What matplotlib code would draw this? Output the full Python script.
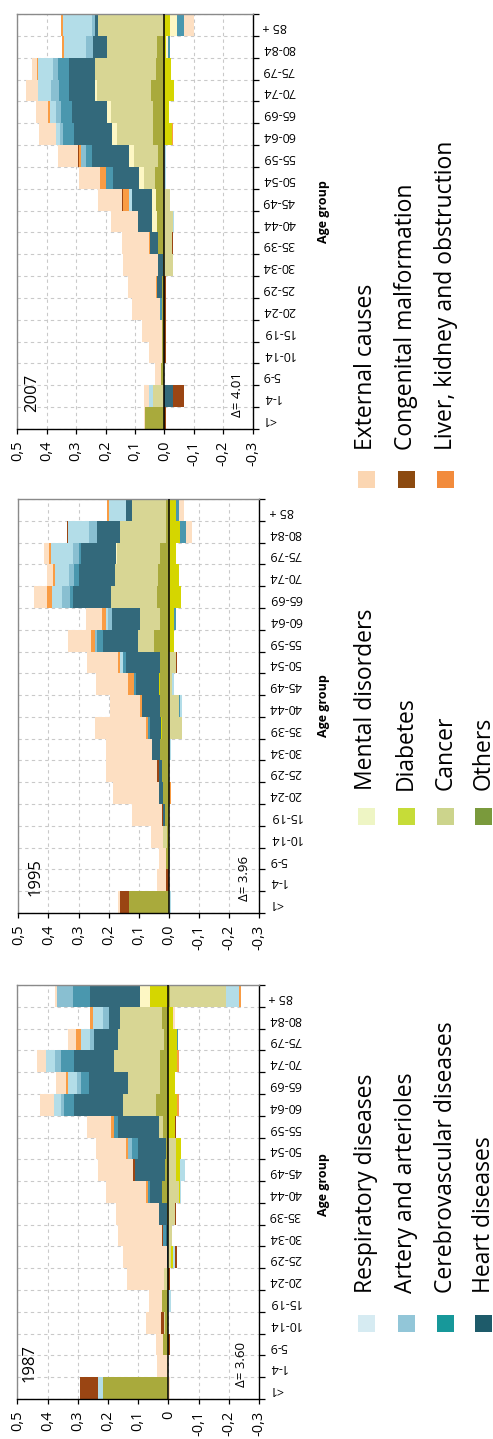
import numpy as np
import matplotlib
matplotlib.use("Agg")
import matplotlib.pyplot as plt
from matplotlib.patches import Rectangle
from matplotlib.ticker import FixedLocator, FuncFormatter

plt.rcParams['font.family'] = ['Open Sans', 'DejaVu Sans']

# age groups, youngest first (drawn bottom to top)
ages = ['<1', '1-4', '5-9', '10-14', '15-19', '20-24', '25-29', '30-34', '35-39',
        '40-44', '45-49', '50-54', '55-59', '60-64', '65-69', '70-74', '75-79',
        '80-84', '85 +']

# stacking order outward from zero
causes = ['Others', 'Cancer', 'Diabetes', 'Mental disorders', 'Heart diseases',
          'Cerebrovascular diseases', 'Artery and arterioles', 'Respiratory diseases',
          'Liver, kidney and obstruction', 'Congenital malformation', 'External causes']
bar_colors = ['#a9aa3c', '#d8d694', '#d5d600', '#fdf7c4', '#33697b', '#4a97ae',
              '#89bfd1', '#b3dde8', '#f99c44', '#9a4513', '#fddfc2']

# ---- 1987 ----
others_1987 = [.216, 0, .017, .010, .020, .005, 0, 0, .005, .021, .012, .007, .018, .042, .029, .029, .013, .022, -.005]
cancer_1987 = [0, .006, 0, .005, 0, .011, -.010, -.012, -.021, -.034, -.026, -.026, .013, .108, .105, .151, .153, .137, -.185]
diabetes_1987 = [0, 0, 0, 0, 0, 0, -.006, 0, 0, -.003, -.011, -.017, -.021, -.030, -.021, -.030, -.029, -.015, .062]
mental_1987 = [0, 0, 0, 0, 0, 0, 0, 0, 0, 0, 0, 0, 0, 0, 0, 0, 0, 0, .031]
heart_1987 = [0, 0, 0, 0, 0, 0, .006, .008, .025, .039, .099, .094, .136, .163, .130, .131, .079, .039, .165]
cerebro_1987 = [0, 0, 0, 0, 0, 0, 0, .009, 0, .008, 0, .020, .013, .032, .024, .045, -.003, 0, .057]
artery_1987 = [0, 0, 0, 0, 0, 0, 0, 0, 0, 0, 0, .013, 0, .012, .014, .020, .014, .017, .055]
resp_1987 = [.017, 0, 0, 0, -.008, 0, -.007, 0, 0, -.005, -.017, 0, 0, .021, .030, .030, .031, .035, -.043]
liver_1987 = [0, 0, 0, 0, 0, 0, 0, 0, 0, .006, 0, .006, .011, -.005, .006, -.005, .015, .011, -.006]
congenital_1987 = [.061, 0, -.005, .008, 0, -.007, -.006, .005, -.003, 0, .006, 0, -.005, 0, 0, 0, 0, 0, 0]
external_1987 = [-.004, .033, .024, .050, .044, .120, .145, .144, .142, .131, .115, .099, .078, .047, .035, .029, .028, -.008, .004]

# ---- 1995 ----
others_1995 = [.133, 0, .011, .005, .013, .021, .022, .030, .022, .030, .030, .028, .050, .030, .041, .035, .030, .010, .011]
cancer_1995 = [0, 0, 0, .015, 0, 0, 0, 0, -.042, -.034, -.010, -.023, .052, .066, .152, .144, .144, .153, .110]
diabetes_1995 = [0, 0, 0, 0, 0, 0, 0, 0, .005, 0, .003, 0, -.017, -.017, -.040, -.033, -.022, -.036, -.022]
mental_1995 = [0, 0, 0, 0, 0, 0, 0, 0, 0, 0, 0, 0, 0, 0, 0, 0, .003, 0, 0]
heart_1995 = [0, 0, 0, 0, .006, .011, .011, .025, .035, .059, .077, .113, .118, .094, .124, .119, .115, .077, .023]
cerebro_1995 = [0, 0, 0, 0, 0, 0, 0, 0, .008, -.004, .007, .013, .018, -.005, .012, .017, .006, -.022, -.011]
artery_1995 = [0, 0, 0, 0, 0, 0, 0, 0, 0, 0, 0, 0, .008, .011, .027, .017, .022, .024, 0]
resp_1995 = [-.007, 0, -.004, 0, 0, 0, 0, -.006, 0, -.006, -.006, .007, 0, .008, .031, .046, .072, .070, .056]
liver_1995 = [0, 0, 0, 0, 0, -.006, 0, 0, .007, .008, .019, .008, .013, .014, .019, .008, .006, 0, .004]
congenital_1995 = [.028, .011, 0, 0, .005, 0, .008, 0, -.003, 0, 0, -.005, 0, 0, 0, 0, -.003, .006, 0]
external_1995 = [.008, .029, .021, .041, .100, .155, .168, .155, .168, .100, .105, .103, .077, .053, .042, .019, .018, -.019, -.017]

# ---- 2007 ----
others_2007 = [.067, 0, .011, .008, .008, .008, .008, .006, .022, .025, .028, .032, .023, .038, .040, .046, .029, .025, 0]
cancer_2007 = [0, .040, 0, 0, 0, 0, 0, -.028, -.026, -.028, -.019, .039, .080, .124, .142, .182, .208, .170, .225]
diabetes_2007 = [0, 0, 0, 0, 0, 0, 0, 0, 0, 0, 0, 0, 0, -.026, -.017, -.031, -.023, -.006, -.018]
mental_2007 = [0, 0, 0, 0, 0, 0, 0, 0, 0, .017, .015, .015, .019, .015, .014, .009, 0, -.006, -.026]
heart_2007 = [0, -.030, 0, 0, 0, 0, .018, .017, .026, .049, .068, .088, .123, .131, .119, .088, .088, .049, .010]
cerebro_2007 = [0, 0, 0, 0, 0, .006, 0, 0, 0, 0, 0, .023, .023, .036, .038, .034, .038, -.008, -.023]
artery_2007 = [0, 0, 0, 0, 0, 0, 0, 0, 0, 0, 0, 0, .014, .011, .017, .026, .014, .023, .011]
resp_2007 = [0, .011, 0, 0, 0, 0, 0, 0, 0, -.004, .011, -.004, -.004, .015, .019, .045, .051, .074, .098]
liver_2007 = [0, 0, 0, 0, 0, 0, .004, 0, .004, 0, .018, .023, .007, -.004, .007, 0, .006, .006, .008]
congenital_2007 = [-.006, -.035, 0, -.005, -.005, -.005, -.006, 0, -.003, 0, .005, 0, .006, 0, 0, 0, 0, 0, 0]
external_2007 = [.002, .018, .020, .043, .068, .095, .094, .119, .093, .091, .080, .069, .068, .057, .042, .040, .015, 0, -.034]

panels = [
    ('1987', 'Δ= 3.60', [others_1987, cancer_1987, diabetes_1987, mental_1987, heart_1987, cerebro_1987,
                         artery_1987, resp_1987, liver_1987, congenital_1987, external_1987]),
    ('1995', 'Δ= 3.96', [others_1995, cancer_1995, diabetes_1995, mental_1995, heart_1995, cerebro_1995,
                         artery_1995, resp_1995, liver_1995, congenital_1995, external_1995]),
    ('2007', 'Δ= 4.01', [others_2007, cancer_2007, diabetes_2007, mental_2007, heart_2007, cerebro_2007,
                         artery_2007, resp_2007, liver_2007, congenital_2007, external_2007]),
]

W, H = 493, 1439
fig = plt.figure(figsize=(W / 100, H / 100), dpi=100)


def frac(x, y):
    """pixel position measured from the top-left corner -> figure fraction"""
    return x / W, 1 - y / H


def comma_fmt(short_zero):
    def f(v, pos):
        if abs(v) < 1e-9:
            return '0' if short_zero else '0,0'
        return f'{v:.1f}'.replace('.', ',')
    return f


def draw_panel(ax, series, year, delta, short_zero):
    y = np.arange(len(ages))
    pos = np.zeros(len(ages))
    neg = np.zeros(len(ages))
    for vals, color in zip(series, bar_colors):
        vals = np.asarray(vals, dtype=float)
        left = np.where(vals >= 0, pos, neg)
        ax.barh(y, vals, left=left, height=1.0, color=color, linewidth=0, zorder=2)
        pos += np.clip(vals, 0, None)
        neg += np.clip(vals, None, 0)
    ax.axvline(0, color='black', lw=1.1, zorder=3)

    ax.set_xlim(0.5, -0.3)
    ax.set_ylim(-0.5, len(ages) - 0.5)
    ax.set_axisbelow(True)

    ax.xaxis.set_major_locator(FixedLocator(np.round(np.arange(-0.3, 0.51, 0.1), 1)))
    ax.xaxis.set_major_formatter(FuncFormatter(comma_fmt(short_zero)))
    ax.tick_params(axis='x', which='major', direction='out', length=3.5, width=0.9,
                   pad=5, labelsize=10.5, labelrotation=90, colors='black')

    ax.yaxis.tick_right()
    ax.set_yticks(y)
    ax.set_yticklabels(ages)
    ax.yaxis.set_minor_locator(FixedLocator(np.arange(-0.5, len(ages), 1.0)))
    ax.tick_params(axis='y', which='major', length=0, pad=7, labelsize=9,
                   labelrotation=180)
    ax.tick_params(axis='y', which='minor', direction='out', length=4, width=0.9,
                   right=True, left=False)

    grid_kw = dict(color='#c9c9c9', lw=0.8, ls=(0, (3, 3)))
    ax.grid(axis='x', which='major', **grid_kw)
    ax.grid(axis='y', which='minor', **grid_kw)

    for side in ('left', 'top'):
        ax.spines[side].set_color('#8a8a8a')
        ax.spines[side].set_linewidth(1.0)
    for side in ('right', 'bottom'):
        ax.spines[side].set_color('black')
        ax.spines[side].set_linewidth(1.0)

    ax.text(year[1], 0.04, year[0], transform=ax.transAxes, rotation=90,
            ha='center', va='bottom', fontsize=12)
    ax.text(delta[1], 0.03, delta[0], transform=ax.transAxes, rotation=90,
            ha='center', va='bottom', fontsize=9.5)


# panel boxes in pixels: left, top, right, bottom
boxes = [(17.3, 985, 259, 1399), (18.3, 499, 259.3, 913), (17.3, 14, 252.7, 429)]
year_x = [0.0525, 0.071, 0.065]
delta_x = [0.928, 0.937, 0.937]
label_y = [1185, 706, 212]

for i, ((year, delta, series), (l, t, r, b)) in enumerate(zip(panels, boxes)):
    ax = fig.add_axes([l / W, 1 - b / H, (r - l) / W, (b - t) / H])
    draw_panel(ax, series, (year, year_x[i]), (delta, delta_x[i]), short_zero=(i == 0))
    fig.text(*frac(323, label_y[i]), 'Age group', rotation=90, ha='center', va='center',
             fontsize=9, fontweight='bold')

# legend, three groups of four/four/three entries
legend_groups = [
    (['Respiratory diseases', 'Artery and arterioles', 'Cerebrovascular diseases', 'Heart diseases'],
     ['#d6ebf2', '#92c6d8', '#17989a', '#1e5b6a'], 1323.5, 1293),
    (['Mental disorders', 'Diabetes', 'Cancer', 'Others'],
     ['#eef5c4', '#c6dc38', '#ccd48c', '#7a9a3c'], 816, 790),
    (['External causes', 'Congenital malformation', 'Liver, kidney and obstruction'],
     ['#fbd6b2', '#8c4a10', '#f28b3c'], 479, 450),
]
col_x = [366.5, 406, 445.5, 483.5]
sq = 17
for labels, colors, marker_y, text_y in legend_groups:
    for j, (lab, col) in enumerate(zip(labels, colors)):
        x0, y0 = frac(col_x[j] - sq / 2, marker_y + sq / 2)
        fig.add_artist(Rectangle((x0, y0), sq / W, sq / H, transform=fig.transFigure,
                                 facecolor=col, edgecolor='none'))
        fig.text(*frac(col_x[j], text_y), lab, rotation=90, ha='center', va='bottom',
                 fontsize=16.5)

fig.savefig('out.png', dpi=100)
